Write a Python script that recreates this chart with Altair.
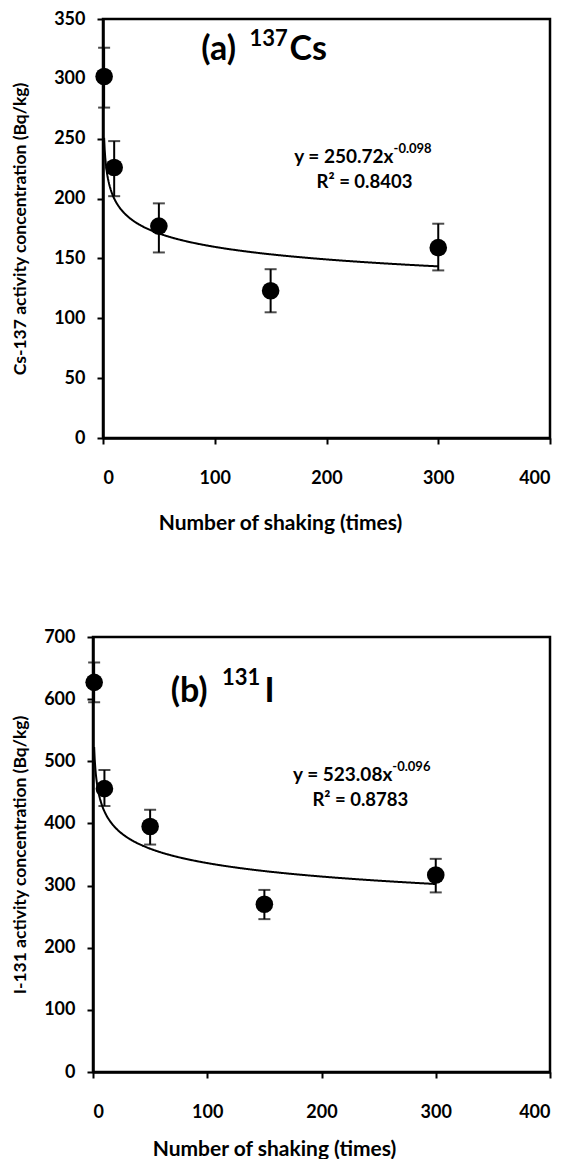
import altair as alt
import pandas as pd

# ---------------- data ----------------
shake_x = [1, 10, 50, 150, 300]

cs_y = [302, 226, 177, 123, 159]
cs_lo = [276, 202, 155, 105, 140]
cs_hi = [326, 248, 196, 141, 179]
cs_coef = [250.72, -0.098]
cs_r2 = "0.8403"

i_y = [627, 456, 395, 270, 317]
i_lo = [595, 428, 366, 246, 289]
i_hi = [659, 486, 422, 293, 343]
i_coef = [523.08, -0.096]
i_r2 = "0.8783"

x_ticks = [0, 100, 200, 300, 400]
cs_y_ticks = [0, 50, 100, 150, 200, 250, 300, 350]
i_y_ticks = [0, 100, 200, 300, 400, 500, 600, 700]

FONT = "Lato"
BLACK = "#000000"


def panel(yv, lo, hi, coef, r2, yticks, ymax, ytitle, lab, sup, iso, ann,
          w, h, off, ytp, xtx, xty):
    pts = pd.DataFrame({"x": shake_x, "y": yv, "lo": lo, "hi": hi})
    xs = alt.Scale(domain=[0, 400], range=[off, w], nice=False)
    ys = alt.Scale(domain=[0, ymax], nice=False)
    xax = alt.Axis(values=x_ticks, grid=False, tickSize=6, tickWidth=2,
                   tickColor=BLACK, domainColor=BLACK, domainWidth=2.5,
                   labelPadding=25, labelFontSize=18, labelFont=FONT,
                   labelFontWeight="bold", labelColor=BLACK,
                   title="Number of shaking (times)", titleFont=FONT,
                   titleFontSize=21, titleFontWeight="bold", titleColor=BLACK,
                   titleX=xtx, titleY=xty, titleBaseline="middle")
    yax = alt.Axis(values=yticks, grid=False, tickSize=6, tickWidth=2,
                   tickColor=BLACK, domainColor=BLACK, domainWidth=2.5,
                   labelPadding=12, labelFontSize=18, labelFont=FONT,
                   labelFontWeight="bold", labelColor=BLACK, offset=-off,
                   title=ytitle, titleFont=FONT, titleFontSize=17.5,
                   titleFontWeight="bold", titleColor=BLACK, titlePadding=ytp)
    base = alt.Chart(pts)
    bars = base.mark_rule(color=BLACK, strokeWidth=2).encode(
        x=alt.X("x:Q", scale=xs, axis=xax), y=alt.Y("lo:Q", scale=ys, axis=yax),
        y2="hi:Q")
    cap_lo = base.mark_tick(orient="horizontal", size=12, thickness=2,
                            color=BLACK).encode(x="x:Q", y="lo:Q")
    cap_hi = base.mark_tick(orient="horizontal", size=12, thickness=2,
                            color=BLACK).encode(x="x:Q", y="hi:Q")
    dots = base.mark_circle(size=310, opacity=1, color=BLACK).encode(
        x="x:Q", y="y:Q")
    curve = alt.Chart(alt.sequence(1, 300.5, 0.5, as_="x")).transform_calculate(
        y=f"{coef[0]} * pow(datum.x, {coef[1]})"
    ).mark_line(color=BLACK, strokeWidth=2).encode(x="x:Q", y="y:Q")

    def txt(x, y, t, size, align):
        d = pd.DataFrame({"x": [x], "y": [y], "t": [t]})
        return alt.Chart(d).mark_text(font=FONT, fontWeight="bold",
                                      fontSize=size, align=align,
                                      baseline="middle", color=BLACK).encode(
            x="x:Q", y="y:Q", text="t:N")

    layers = [
        txt(ann["lab"][0], ann["lab"][1], lab, 34, "left"),
        txt(ann["sup"][0], ann["sup"][1], sup, 22, "left"),
        txt(ann["iso"][0], ann["iso"][1], iso, 34, "left"),
        txt(ann["eq"][0], ann["eq"][1], f"y = {coef[0]:.2f}x", 19, "right"),
        txt(ann["eqs"][0], ann["eqs"][1], f"{coef[1]}", 13, "left"),
        txt(ann["r2"][0], ann["r2"][1], f"R\u00b2 = {r2}", 18.5, "center"),
    ]
    frame = alt.Chart(pd.DataFrame({"k": [0]})).mark_rect(
        fillOpacity=0, stroke=BLACK, strokeWidth=2.5).encode(
        x=alt.value(off), x2=alt.value(w), y=alt.value(0), y2=alt.value(h))
    return alt.layer(bars, cap_lo, cap_hi, curve, dots, frame, *layers).properties(
        width=w, height=h)


ann_a = {"lab": (88, 324), "sup": (131, 333), "iso": (167, 324),
         "eq": (260, 235), "eqs": (260, 241), "r2": (234, 214)}
ann_b = {"lab": (68, 612), "sup": (113, 634), "iso": (150, 612),
         "eq": (262, 478), "eqs": (262, 491), "r2": (234, 438)}

pa = panel(cs_y, cs_lo, cs_hi, cs_coef, cs_r2, cs_y_ticks, 350,
           "Cs-137 activity concentration (Bq/kg)", "(a)", "137", "Cs",
           ann_a, 457, 419, 10, 24, 187, 85)
pb = panel(i_y, i_lo, i_hi, i_coef, i_r2, i_y_ticks, 700,
           "I-131 activity concentration (Bq/kg)", "(b)", "131", "I",
           ann_b, 457, 435, 0, 14, 181, 77)

chart = alt.vconcat(pa, pb, spacing=95).properties(
    padding={"left": 3, "top": 2, "right": 5, "bottom": 0},
    background="white",
).configure_view(strokeWidth=0)

chart.save("out.html", embed_options={"renderer": "svg", "actions": False})
